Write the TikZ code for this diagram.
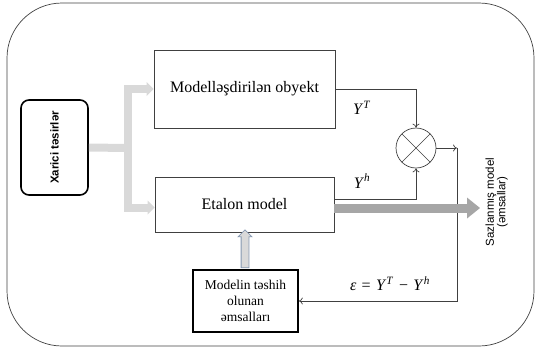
\documentclass[tikz,border=0pt]{standalone}
\usepackage{fontspec}
\usepackage{graphicx}
\setmainfont{Liberation Serif}
\newfontfamily\arialfont{Liberation Sans}
\usetikzlibrary{arrows.meta,calc,positioning,shapes.arrows}

\definecolor{lightbar}{RGB}{217,217,217}
\definecolor{darkbar}{RGB}{166,166,166}
\definecolor{arrowrim}{RGB}{132,151,176}
\definecolor{frameline}{RGB}{64,64,64}

\tikzset{
  block/.style={draw=frameline, line width=0.7pt, inner sep=2pt},
  thickblock/.style={draw=black, line width=1.6pt, inner sep=2pt},
  signal/.style={draw=frameline, line width=0.7pt, -{To[length=4pt,width=7pt]}},
  feedbar/.style={draw=lightbar, line width=8pt},
  outbar/.style={draw=darkbar, line width=9pt,
    -{Triangle[length=13pt,width=21pt,line width=0pt]}},
  label/.style={inner sep=1pt}
}

\begin{document}
\begin{tikzpicture}[x=1pt,y=-1pt, font=\fontsize{16}{19}\selectfont]
  \useasboundingbox (0,0) rectangle (537,349);
  % outer frame
  \draw[frameline, line width=0.7pt, rounded corners=55pt] (7,3) rectangle (534,346);

  % Blocks
  \node[block, minimum width=181pt, minimum height=78pt] (obj) at (244.5,89) {Modelləşdirilən obyekt};
  \node[block, minimum width=179pt, minimum height=55pt] (etl) at (244.5,204.5) {Etalon model};
  \node[thickblock, minimum width=105pt, minimum height=62pt, align=center,
        font=\fontsize{13.5}{16}\selectfont] (coef) at (245.5,301) {Modelin təshih\\olunan\\əmsalları};
  \node[thickblock, rounded corners=8pt, minimum width=67pt, minimum height=95pt,
        font=\arialfont\bfseries\fontsize{11.5}{13}\selectfont] (xar) at (54.5,147.5) {\rotatebox{90}{Xarici təsirlər}};
  \node[circle, draw=frameline, line width=0.7pt, minimum size=40pt,
        path picture={\draw[frameline, line width=0.6pt]
          (path picture bounding box.north west) -- (path picture bounding box.south east)
          (path picture bounding box.north east) -- (path picture bounding box.south west);}] (mix) at (416,148) {};
  \node[font=\arialfont\fontsize{11.5}{12}\selectfont] (saz) at (497,202)
    {\rotatebox{90}{\renewcommand{\arraystretch}{0.85}\begin{tabular}{@{}c@{}}Sazlanmış model\\(əmsallar)\end{tabular}}};

  % Labels
  \node[label] (yt) at (362,108) {\textit{Y}\textsuperscript{\textit{T}}};
  \node[label] (yh) at (362,181) {\textit{Y}\textsuperscript{\textit{h}}};
  \node[label] (eps) at (390,284) {\textit{ε}\,\,=\,\,\textit{Y}\textsuperscript{\textit{T}}\,\,−\,\,\textit{Y}\textsuperscript{\textit{h}}};

  % Helper points
  \coordinate (split) at (128,148);
  \coordinate (tap) at (457,148);
  \coordinate (out) at (480,208);

  % External influences
  \draw[feedbar] (xar.east) -- (split);
  \draw[feedbar, -{Triangle[length=7pt,width=14pt,line width=0pt]}] (split) |- (obj.west);
  \draw[feedbar, -{Triangle[length=7pt,width=14pt,line width=0pt]}] (split) |- ([yshift=-3pt]etl.west);

  % Signals
  \draw[signal] (obj.east) -| (mix.north);
  \draw[signal] ([yshift=5pt]etl.east) -| (mix.south);
  \draw[signal] (mix.east) -- (tap);
  \draw[signal] (tap) |- (coef.east);
  \draw[outbar] ([yshift=-3.5pt]etl.east) -- (out);

  % Correction arrow
  \node[single arrow, rotate=90, draw=arrowrim, fill=lightbar, line width=0.8pt,
        minimum height=38pt, inner sep=3.5pt, single arrow head extend=3pt]
        (lift) at ($(coef.north)!0.5!(etl.south)$) {};
\end{tikzpicture}
\end{document}
